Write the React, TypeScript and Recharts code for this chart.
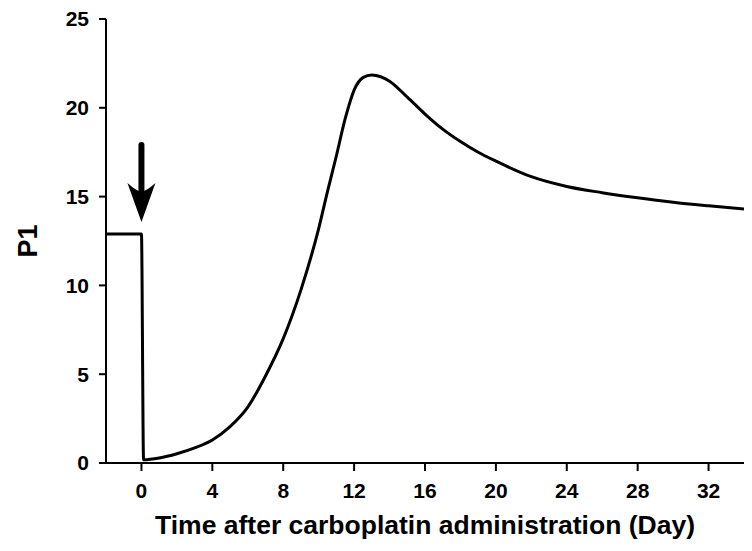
import { LineChart, Line, XAxis, YAxis, ReferenceLine, ReferenceDot } from "recharts";

// days after carboplatin dose
const days = [
  -2, 0, 0.12, 1, 2, 3, 4, 5, 6, 7, 8, 9, 10, 10.5, 11, 11.5, 12, 12.5, 13,
  13.5, 14, 15, 16, 17, 18, 19, 20, 22, 24, 26, 28, 30, 32, 34,
];
const p1 = [
  12.9, 12.9, 0.18, 0.28, 0.52, 0.85, 1.3, 2.05, 3.15, 4.9, 7.0, 9.75, 13.2,
  15.3, 17.3, 19.4, 21.0, 21.7, 21.85, 21.75, 21.5, 20.6, 19.65, 18.8, 18.1,
  17.5, 17.0, 16.12, 15.57, 15.22, 14.93, 14.68, 14.48, 14.3,
];
const xTicks = [0, 4, 8, 12, 16, 20, 24, 28, 32];
const yTicks = [0, 5, 10, 15, 20, 25];

// dose arrow: shaft top, shaft bottom, tip (in P1 units, at day 0)
const arrowTop = 17.9;
const arrowShaftEnd = 15.0;
const arrowTip = 13.57;

const data = days.map((d, i) => ({ day: d, p1: p1[i] }));

const font = "'Liberation Sans', Arial, sans-serif";

const ArrowHead = (props: any) => {
  const { cx, cy } = props;
  return (
    <path
      d={`M${cx},${cy} L${cx - 14},${cy - 39} Q${cx - 5},${cy - 31} ${cx},${cy - 30} Q${cx + 5},${cy - 31} ${cx + 14},${cy - 39} Z`}
      fill="#000"
    />
  );
};

export default function App() {
  return (
    <div style={{ position: "absolute", left: 0, top: 0, background: "#fff" }}>
      <LineChart
        width={752}
        height={551}
        data={data}
        margin={{ top: 19, right: 8, left: 0, bottom: 0 }}
      >
        <XAxis
          dataKey="day"
          type="number"
          domain={[-2, 34]}
          ticks={xTicks}
          allowDataOverflow
          height={88}
          stroke="#000"
          strokeWidth={2}
          tickSize={8}
          tickMargin={12}
          tick={{ fill: "#000", fontSize: 21, fontWeight: "bold", fontFamily: font }}
          label={{
            value: "Time after carboplatin administration (Day)",
            position: "insideBottom",
            offset: 17,
            style: { fill: "#000", fontSize: 26.5, fontWeight: "bold", fontFamily: font },
          }}
        />
        <YAxis
          type="number"
          domain={[0, 25]}
          ticks={yTicks}
          width={106}
          stroke="#000"
          strokeWidth={2}
          tickSize={7}
          tickMargin={10}
          tick={{ fill: "#000", fontSize: 21, fontWeight: "bold", fontFamily: font }}
          label={{
            value: "P1",
            angle: -90,
            position: "insideLeft",
            offset: 27,
            style: {
              fill: "#000",
              fontSize: 27,
              fontWeight: "bold",
              fontFamily: font,
              textAnchor: "middle",
            },
          }}
        />
        <Line
          type="monotone"
          dataKey="p1"
          stroke="#000"
          strokeWidth={3}
          dot={false}
          isAnimationActive={false}
        />
        <ReferenceLine
          segment={[
            { x: 0, y: arrowTop },
            { x: 0, y: arrowShaftEnd },
          ]}
          stroke="#000"
          strokeWidth={6}
          strokeLinecap="round"
        />
        <ReferenceDot x={0} y={arrowTip} r={1} shape={ArrowHead} />
      </LineChart>
    </div>
  );
}
